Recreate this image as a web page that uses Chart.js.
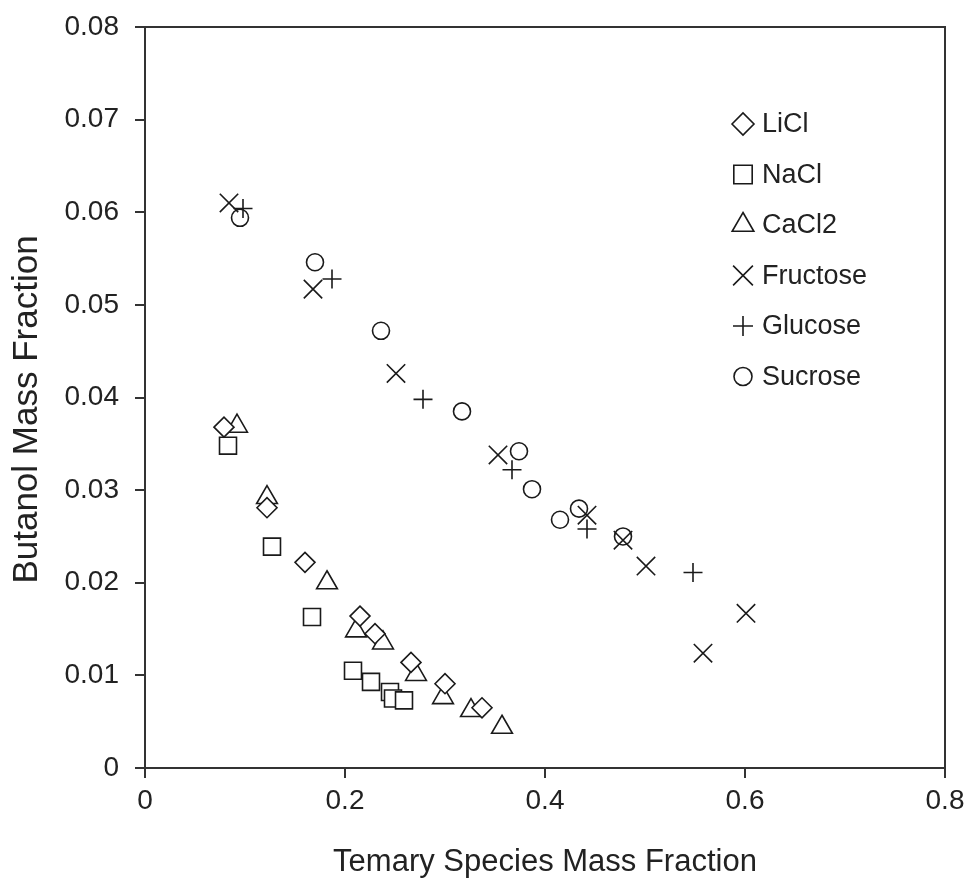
<!DOCTYPE html>
<html>
<head>
<meta charset="utf-8">
<script src="https://cdn.jsdelivr.net/npm/chart.js@4/dist/chart.umd.min.js"></script>
<style>
  html, body { margin: 0; padding: 0; background: #fff; }
  #wrap { position: relative; width: 966px; height: 881px; }
</style>
</head>
<body>
<div id="wrap"><canvas id="c"></canvas></div>
<script>
// Solubility points: [ternary species mass fraction, butanol mass fraction]
const seriesNames = ['LiCl', 'NaCl', 'CaCl2', 'Fructose', 'Glucose', 'Sucrose'];

const liclPoints = [[0.079,0.0368],[0.122,0.0281],[0.160,0.0222],[0.215,0.0164],[0.230,0.0145],[0.266,0.0114],[0.300,0.0091],[0.337,0.0065]];
const naclPoints = [[0.083,0.0348],[0.127,0.0239],[0.167,0.0163],[0.208,0.0105],[0.226,0.0093],[0.245,0.0082],[0.248,0.0075],[0.259,0.0073]];
const cacl2Points = [[0.092,0.0369],[0.122,0.0292],[0.182,0.0200],[0.211,0.0148],[0.238,0.0135],[0.271,0.0101],[0.298,0.0076],[0.326,0.0062],[0.357,0.0044]];
const fructosePoints = [[0.084,0.0610],[0.168,0.0517],[0.251,0.0426],[0.353,0.0338],[0.442,0.0273],[0.478,0.0246],[0.501,0.0218],[0.558,0.0124],[0.601,0.0167]];
const glucosePoints = [[0.098,0.0604],[0.187,0.0528],[0.278,0.0398],[0.367,0.0322],[0.442,0.0258],[0.548,0.0211]];
const sucrosePoints = [[0.095,0.0594],[0.170,0.0546],[0.236,0.0472],[0.317,0.0385],[0.374,0.0342],[0.387,0.0301],[0.415,0.0268],[0.434,0.0280],[0.478,0.0250]];

const xTickLabels = ['0', '0.2', '0.4', '0.6', '0.8'];
const yTickLabels = ['0', '0.01', '0.02', '0.03', '0.04', '0.05', '0.06', '0.07', '0.08'];
const xTitle = 'Temary Species Mass Fraction';
const yTitle = 'Butanol Mass Fraction';

const allPoints = [liclPoints, naclPoints, cacl2Points, fructosePoints, glucosePoints, sucrosePoints];
const markerStyles = ['rectRot', 'rect', 'triangle', 'crossRot', 'cross', 'circle'];
const markerRadii = [10, 12, 12, 13, 9.5, 8.5];
const keyRadii = [11, 13, 12.5, 14, 10, 9];

const INK = '#1a1a1a';
const FONT = "'Liberation Sans', Arial, sans-serif";

const datasets = seriesNames.map((name, i) => ({
  label: name,
  data: allPoints[i].map(p => ({ x: p[0], y: p[1] })),
  pointStyle: markerStyles[i],
  pointRadius: markerRadii[i],
  pointHoverRadius: markerRadii[i],
  pointBorderWidth: 1.6,
  pointBorderColor: INK,
  pointBackgroundColor: '#ffffff',
  showLine: false
}));

// Frame lines on the top and right of the plot area
const frame = {
  id: 'frame',
  afterDatasetsDraw(chart) {
    const { ctx, chartArea: a } = chart;
    ctx.save();
    ctx.strokeStyle = '#333';
    ctx.lineWidth = 2;
    ctx.beginPath();
    ctx.moveTo(a.left, a.top);
    ctx.lineTo(a.right, a.top);
    ctx.lineTo(a.right, a.bottom);
    ctx.stroke();
    ctx.restore();
  }
};

// Vertical axis title, sitting a little below the middle of the plot
const yTitleText = {
  id: 'yTitleText',
  afterDraw(chart) {
    const { ctx, chartArea: a } = chart;
    ctx.save();
    ctx.translate(37, (a.top + a.bottom) / 2 + 12);
    ctx.rotate(-Math.PI / 2);
    ctx.font = '35px ' + FONT;
    ctx.fillStyle = '#222';
    ctx.textAlign = 'center';
    ctx.textBaseline = 'alphabetic';
    ctx.fillText(yTitle, 0, 0);
    ctx.restore();
  }
};

// Marker key in the upper right of the plot
const keyBox = {
  id: 'keyBox',
  afterDraw(chart) {
    const { ctx, chartArea: a } = chart;
    const mx = a.left + 598, tx = a.left + 617, y0 = a.top + 97, step = 50.5;
    ctx.save();
    ctx.font = '27px ' + FONT;
    ctx.textBaseline = 'middle';
    chart.data.datasets.forEach((ds, i) => {
      const y = y0 + i * step;
      ctx.strokeStyle = INK;
      ctx.fillStyle = '#fff';
      ctx.lineWidth = 1.6;
      Chart.helpers.drawPoint(ctx, { pointStyle: ds.pointStyle, radius: keyRadii[i], rotation: 0, borderWidth: 1.6 }, mx, y);
      ctx.fillStyle = '#222';
      ctx.fillText(ds.label, tx, y + 1);
    });
    ctx.restore();
  }
};

new Chart(document.getElementById('c'), {
  type: 'scatter',
  data: { datasets },
  plugins: [frame, yTitleText, keyBox],
  options: {
    responsive: true,
    maintainAspectRatio: false,
    animation: false,
    events: [],
    layout: { padding: { top: 27, right: 21, bottom: 0, left: 0 } },
    plugins: { legend: { display: false }, tooltip: { enabled: false } },
    scales: {
      x: {
        type: 'linear',
        min: 0, max: 0.8,
        afterFit(s) { s.height = 113; s.paddingLeft = 0; s.paddingRight = 0; },
        ticks: {
          stepSize: 0.2,
          padding: 6,
          color: '#222',
          font: { family: FONT, size: 28 },
          callback: (v, i) => xTickLabels[i]
        },
        grid: { drawOnChartArea: false, drawTicks: true, tickLength: 10, color: '#333', lineWidth: 2 },
        border: { display: true, color: '#333', width: 2 },
        title: {
          display: true,
          text: xTitle,
          color: '#222',
          font: { family: FONT, size: 31 },
          padding: { top: 0, bottom: 0 }
        }
      },
      y: {
        type: 'linear',
        min: 0, max: 0.08,
        afterFit(s) { s.width = 145; s.paddingTop = 0; s.paddingBottom = 0; },
        ticks: {
          stepSize: 0.01,
          padding: 16,
          color: '#222',
          font: { family: FONT, size: 28 },
          callback: (v, i) => yTickLabels[i]
        },
        grid: { drawOnChartArea: false, drawTicks: true, tickLength: 10, color: '#333', lineWidth: 2 },
        border: { display: true, color: '#333', width: 2 }
      }
    }
  }
});
</script>
</body>
</html>
